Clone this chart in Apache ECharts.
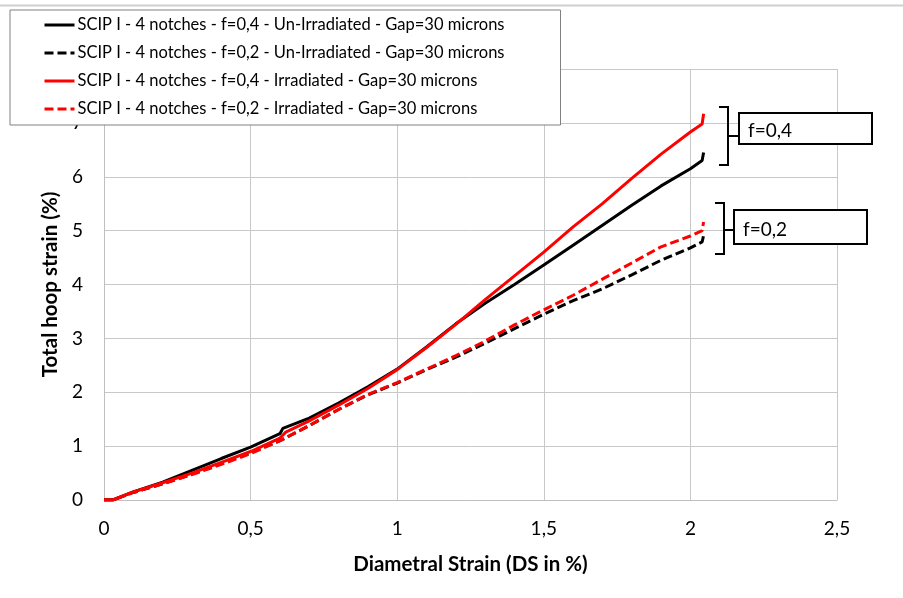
<!DOCTYPE html>
<html>
<head>
<meta charset="utf-8">
<script src="https://cdn.jsdelivr.net/npm/echarts@6/dist/echarts.min.js"></script>
<style>html,body{margin:0;padding:0;background:#fff}#c{width:903px;height:598px}</style>
</head>
<body>
<div id="c"></div>
<script>
const seriesNames = [
  'SCIP I - 4 notches - f=0,4 - Un-Irradiated - Gap=30 microns',
  'SCIP I - 4 notches - f=0,2 - Un-Irradiated - Gap=30 microns',
  'SCIP I - 4 notches - f=0,4 - Irradiated - Gap=30 microns',
  'SCIP I - 4 notches - f=0,2 - Irradiated - Gap=30 microns'
];
const xTicks = [0, 0.5, 1, 1.5, 2, 2.5];
const yTicks = [0, 1, 2, 3, 4, 5, 6, 7, 8];

const unirr04 = [[0,0],[0.03,0],[0.1,0.15],[0.2,0.33],[0.3,0.55],[0.4,0.77],[0.5,0.98],[0.6,1.23],[0.61,1.33],[0.7,1.52],[0.8,1.8],[0.9,2.1],[1.0,2.43],[1.1,2.84],[1.2,3.27],[1.3,3.65],[1.4,4.0],[1.5,4.36],[1.6,4.73],[1.7,5.1],[1.8,5.47],[1.9,5.83],[2.0,6.15],[2.04,6.3],[2.045,6.45]];
const unirr02 = [[0,0],[0.03,0],[0.1,0.14],[0.2,0.3],[0.3,0.48],[0.4,0.68],[0.5,0.88],[0.6,1.1],[0.7,1.38],[0.8,1.68],[0.9,1.95],[1.0,2.17],[1.1,2.42],[1.2,2.65],[1.3,2.91],[1.4,3.18],[1.5,3.45],[1.6,3.7],[1.7,3.92],[1.8,4.18],[1.9,4.45],[2.0,4.68],[2.04,4.79],[2.045,4.91]];
const irr04 = [[0,0],[0.03,0],[0.1,0.15],[0.2,0.32],[0.3,0.5],[0.4,0.7],[0.5,0.9],[0.6,1.15],[0.62,1.26],[0.7,1.47],[0.8,1.76],[0.9,2.07],[1.0,2.42],[1.1,2.83],[1.2,3.26],[1.3,3.72],[1.4,4.16],[1.5,4.6],[1.6,5.07],[1.7,5.5],[1.8,5.97],[1.9,6.42],[2.0,6.83],[2.04,6.98],[2.045,7.17]];
const irr02 = [[0,0],[0.03,0],[0.1,0.14],[0.2,0.3],[0.3,0.47],[0.4,0.66],[0.5,0.86],[0.6,1.1],[0.7,1.38],[0.8,1.68],[0.9,1.96],[1.0,2.18],[1.1,2.43],[1.2,2.68],[1.3,2.95],[1.4,3.25],[1.5,3.53],[1.6,3.8],[1.7,4.1],[1.8,4.4],[1.9,4.7],[2.0,4.9],[2.04,5.0],[2.045,5.16]];

const annotations = ['f=0,4', 'f=0,2'];

const FONT = 'Lato';
const chart = echarts.init(document.getElementById('c'), null, {renderer: 'canvas'});
const fmt = v => String(v).replace('.', ',');

function mk(name, data, color, type) {
  return {
    name, type: 'line', data, showSymbol: false, symbol: 'none',
    lineStyle: {color, width: 3, type: type === 'dashed' ? [9, 4] : 'solid'},
    itemStyle: {color},
    z: 3
  };
}

const option = {
  animation: false,
  backgroundColor: '#fff',
  textStyle: {fontFamily: FONT},
  grid: {left: 104, right: 66, top: 69, height: 431},
  xAxis: {
    type: 'value', min: 0, max: 2.5, interval: 0.5,
    axisLine: {show: true, lineStyle: {color: '#bfbfbf', width: 1}},
    axisTick: {show: false},
    splitLine: {show: true, lineStyle: {color: '#c8c8c8', width: 1}},
    axisLabel: {color: '#000', fontSize: 19, fontFamily: FONT, margin: 19, formatter: fmt},
    name: 'Diametral Strain (DS in %)', nameLocation: 'middle', nameGap: 54,
    nameTextStyle: {color: '#000', fontSize: 20.5, fontWeight: 'bold', fontFamily: FONT}
  },
  yAxis: {
    type: 'value', min: 0, max: 8, interval: 1,
    axisLine: {show: true, lineStyle: {color: '#bfbfbf', width: 1}},
    axisTick: {show: false},
    splitLine: {show: true, lineStyle: {color: '#c8c8c8', width: 1}},
    axisLabel: {color: '#000', fontSize: 19, fontFamily: FONT, margin: 21, formatter: fmt,
      showMaxLabel: false},
    name: 'Total hoop strain (%)', nameLocation: 'middle', nameGap: 32,
    nameTextStyle: {color: '#000', fontSize: 20.5, fontWeight: 'bold', fontFamily: FONT}
  },
  legend: {
    orient: 'vertical', left: 10, top: 10,
    backgroundColor: '#fff', borderColor: '#808080', borderWidth: 1, borderRadius: 0,
    padding: [6, 56, 7, 33], itemGap: 10,
    itemWidth: 30, itemHeight: 14,
    itemStyle: {opacity: 0},
    lineStyle: {width: 3},
    textStyle: {fontSize: 16.5, lineHeight: 18, fontFamily: FONT, color: '#000', padding: [0, 0, 0, -2]},
    data: seriesNames,
    z: 10
  },
  series: [
    mk(seriesNames[0], unirr04, '#000000', 'solid'),
    mk(seriesNames[1], unirr02, '#000000', 'dashed'),
    mk(seriesNames[2], irr04, '#ff0000', 'solid'),
    mk(seriesNames[3], irr02, '#ff0000', 'dashed')
  ],
  graphic: [
    {type: 'line', shape: {x1: 0, y1: 5.5, x2: 903, y2: 5.5}, style: {stroke: '#d0d0d0', lineWidth: 2}, silent: true},
    // bracket 1
    {type: 'polyline', shape: {points: [[719, 107], [728, 107], [728, 165], [719, 165]]}, style: {stroke: '#000', lineWidth: 2, fill: null}, z: 20},
    {type: 'line', shape: {x1: 728, y1: 136, x2: 739, y2: 136}, style: {stroke: '#000', lineWidth: 2}, z: 20},
    {type: 'rect', shape: {x: 739, y: 113, width: 133, height: 31}, style: {stroke: '#000', lineWidth: 2, fill: '#fff'}, z: 20},
    {type: 'text', x: 748, y: 131, style: {text: annotations[0], fontSize: 19, fontFamily: FONT, fill: '#000', verticalAlign: 'middle', align: 'left'}, z: 21},
    // bracket 2
    {type: 'polyline', shape: {points: [[715, 203], [724, 203], [724, 254], [715, 254]]}, style: {stroke: '#000', lineWidth: 2, fill: null}, z: 20},
    {type: 'line', shape: {x1: 724, y1: 230, x2: 734, y2: 230}, style: {stroke: '#000', lineWidth: 2}, z: 20},
    {type: 'rect', shape: {x: 734, y: 210, width: 133, height: 34}, style: {stroke: '#000', lineWidth: 2, fill: '#fff'}, z: 20},
    {type: 'text', x: 743, y: 230, style: {text: annotations[1], fontSize: 19, fontFamily: FONT, fill: '#000', verticalAlign: 'middle', align: 'left'}, z: 21}
  ]
};
chart.setOption(option);
</script>
</body>
</html>
